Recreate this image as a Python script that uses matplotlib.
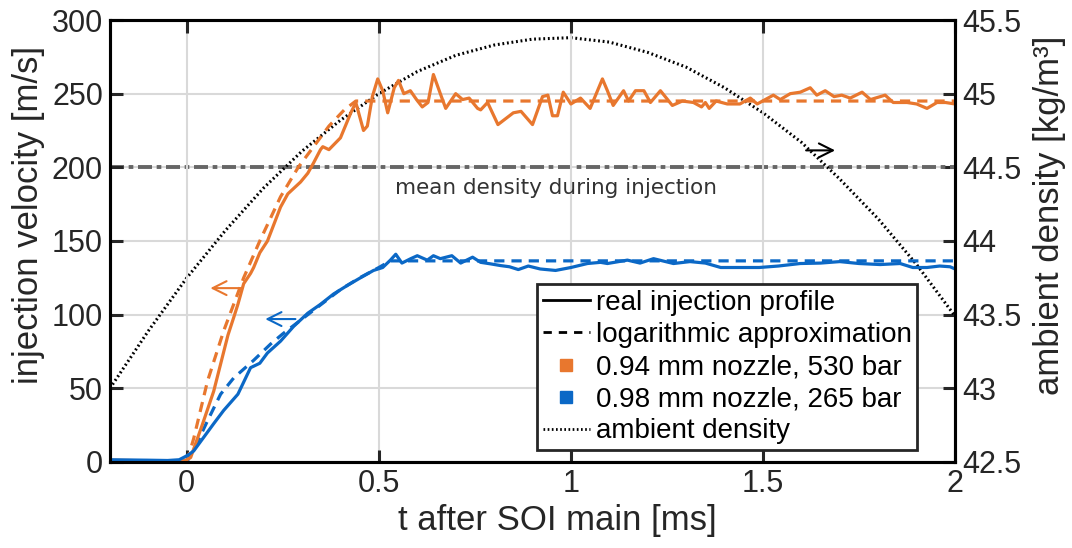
import numpy as np
import matplotlib.pyplot as plt
from matplotlib.lines import Line2D

plt.rcParams['font.family'] = ['Liberation Sans', 'DejaVu Sans']

# orange: 0.94 mm nozzle, 530 bar (real profile)
t_or = [-0.2, -0.15, -0.1, -0.05, -0.01, 0.0, 0.01, 0.04, 0.07, 0.107, 0.122, 0.133, 0.148, 0.166,
        0.174, 0.19, 0.21, 0.244, 0.263, 0.296, 0.315, 0.33, 0.348, 0.354, 0.37, 0.40, 0.427, 0.44,
        0.46, 0.47, 0.483, 0.497, 0.51, 0.523, 0.54, 0.551, 0.565, 0.582, 0.598, 0.613, 0.628, 0.642,
        0.66, 0.674, 0.70, 0.718, 0.735, 0.757, 0.765, 0.783, 0.81, 0.85, 0.87, 0.90, 0.926, 0.94,
        0.952, 0.965, 0.98, 1.0, 1.025, 1.05, 1.082, 1.095, 1.11, 1.137, 1.15, 1.168, 1.19, 1.207,
        1.233, 1.264, 1.29, 1.319, 1.34, 1.35, 1.36, 1.378, 1.407, 1.44, 1.467, 1.485, 1.527, 1.545,
        1.571, 1.597, 1.623, 1.64, 1.662, 1.685, 1.705, 1.727, 1.758, 1.78, 1.818, 1.839, 1.875, 1.9,
        1.927, 1.953, 1.975, 2.0]
v_or = [1.2, 1.0, 0.8, 0.6, 0.8, 1.5, 3, 25, 48, 86, 98, 107, 121, 128,
        132, 142, 150, 173, 182, 190, 196, 203, 212, 214, 212, 220, 237, 244,
        225, 228, 248, 260, 252, 237, 254, 259, 250, 252, 246, 241, 244, 263,
        250, 240, 250, 246, 247, 240, 239, 244, 229, 237, 238, 229, 248, 249,
        235, 235, 251, 243, 247, 240, 260, 252, 242, 252, 245, 252, 252, 244,
        252, 242, 245, 244, 241, 244, 240, 245, 243, 243, 247, 243, 249, 246,
        250, 251, 254, 249, 252, 248, 249, 247, 251, 246, 249, 244, 244, 243,
        240, 244, 244, 243]

# orange logarithmic approximation
t_or_log = [0.0, 0.018, 0.054, 0.096, 0.148, 0.19, 0.244, 0.29, 0.33, 0.37, 0.41, 0.44, 2.0]
v_or_log = [0, 16, 55, 89, 125, 150, 180, 200, 214, 228, 239, 245, 245]

# blue: 0.98 mm nozzle, 265 bar (real profile)
t_bl = [-0.2, -0.1, -0.05, -0.02, -0.005, 0.005, 0.018, 0.07, 0.096, 0.133, 0.166, 0.19, 0.21,
        0.244, 0.278, 0.315, 0.348, 0.382, 0.419, 0.452, 0.486, 0.51, 0.53, 0.544, 0.56, 0.583, 0.6,
        0.626, 0.642, 0.66, 0.69, 0.713, 0.744, 0.765, 0.79, 0.817, 0.84, 0.863, 0.889, 0.92, 0.96,
        1.0, 1.043, 1.077, 1.095, 1.147, 1.18, 1.215, 1.267, 1.31, 1.35, 1.39, 1.44, 1.49,
        1.54, 1.597, 1.65, 1.70, 1.75, 1.805, 1.857, 1.89, 1.927, 1.96, 1.987, 2.0]
v_bl = [1.5, 1.2, 1.0, 1.5, 3.5, 5, 7.5, 26, 35, 46, 64, 67, 74,
        82, 92, 101, 107, 114, 120, 125, 130, 132, 137, 141, 135, 138, 140,
        137, 140, 138, 140, 135, 139, 135.5, 134.5, 133.3, 132.5, 130.6, 133, 131, 130,
        132, 134.7, 135.5, 134.7, 137, 135, 138, 134.7, 136, 135, 132, 132, 132,
        133, 134.7, 135, 136, 134.7, 134, 134.7, 132, 132, 133, 132.5, 131]

# blue logarithmic approximation
t_bl_log = [0.0, 0.025, 0.054, 0.088, 0.122, 0.174, 0.218, 0.25, 0.3, 0.35, 0.4, 0.45, 0.5, 0.53, 2.0]
v_bl_log = [0, 12, 28, 46, 57, 69, 80, 87, 97, 107, 117, 125, 132, 136.5, 136.5]

# ambient density (right axis)
t_rho = [-0.2, -0.1, 0.0, 0.1, 0.2, 0.3, 0.4, 0.5, 0.6, 0.7, 0.8, 0.9, 1.0,
         1.1, 1.2, 1.3, 1.4, 1.5, 1.6, 1.7, 1.8, 1.9, 2.0]
rho = [43.00, 43.39, 43.75, 44.07, 44.36, 44.61, 44.82, 45.00, 45.15, 45.26, 45.33, 45.37, 45.38,
       45.35, 45.28, 45.18, 45.04, 44.87, 44.67, 44.42, 44.15, 43.84, 43.49]

mean_rho = 44.5

orange = '#E8772E'
blue = '#0B68C6'

fig = plt.figure(figsize=(10.72, 5.48), dpi=100)
ax = fig.add_axes([0.1026, 0.157, 0.7883, 0.8065])
ax2 = ax.twinx()

ax.set_xlim(-0.2, 2)
ax.set_ylim(0, 300)
ax2.set_ylim(42.5, 45.5)

# horizontal grid on the back axes (ticks of both y axes coincide), vertical on the front
ax2.grid(True, axis='y', color='#d9d9d9', lw=1.5)
ax2.set_axisbelow(True)
ax.grid(True, axis='x', color='#d9d9d9', lw=1.5)
ax.set_axisbelow(True)

ax2.plot([-0.2, 2], [mean_rho, mean_rho], color='#666666', lw=2.8, dashes=(3.6, 1.2, 1.2, 1.2))
ax2.plot(t_rho, rho, color='black', lw=2.2, ls=(0, (0.6, 0.9)))

ax.plot(t_or_log, v_or_log, color=orange, lw=2.3, dashes=(3.2, 2.2))
ax.plot(t_bl_log, v_bl_log, color=blue, lw=2.3, dashes=(3.2, 2.2))
ax.plot(t_or, v_or, color=orange, lw=2.3)
ax.plot(t_bl, v_bl, color=blue, lw=2.3)

# left axes in front so the velocity curves sit above the density curve
ax.set_zorder(ax2.get_zorder() + 1)
ax.patch.set_visible(False)

ax.annotate('', xy=(0.054, 118), xytext=(0.15, 118),
            arrowprops=dict(arrowstyle='->', color=orange, lw=1.5, mutation_scale=25))
ax.annotate('', xy=(0.197, 97), xytext=(0.29, 97),
            arrowprops=dict(arrowstyle='->', color=blue, lw=1.5, mutation_scale=25))
ax.annotate('', xy=(1.695, 211.5), xytext=(1.605, 211.5),
            arrowprops=dict(arrowstyle='->', color='black', lw=1.5, mutation_scale=25))

ax.text(0.96, 186, 'mean density during injection', family='DejaVu Sans', fontsize=15.5,
        color='#333333', ha='center', va='center')

ax.set_xticks([0, 0.5, 1, 1.5, 2])
ax.set_xticklabels(['0', '0.5', '1', '1.5', '2'])
ax.set_yticks([0, 50, 100, 150, 200, 250, 300])
ax2.set_yticks([42.5, 43, 43.5, 44, 44.5, 45, 45.5])
ax2.set_yticklabels(['42.5', '43', '43.5', '44', '44.5', '45', '45.5'])

for a in (ax, ax2):
    a.tick_params(direction='in', length=9, width=2.2, labelsize=22, colors='#262626', pad=5)
    for s in a.spines.values():
        s.set_linewidth(2.2)
        s.set_color('black')
ax.tick_params(axis='y', right=False)
ax.tick_params(axis='x', top=True)

ax.set_xlabel('t after SOI main [ms]', fontsize=25, color='#262626')
ax.set_ylabel('injection velocity [m/s]', fontsize=25, color='#262626')
ax2.set_ylabel('ambient density [kg/m³]', fontsize=25, color='#262626')
ax.xaxis.set_label_coords(0.529, -0.094)
ax.yaxis.set_label_coords(-0.077, 0.559)
ax2.yaxis.set_label_coords(1.092, 0.559)

handles = [
    Line2D([], [], color='black', lw=2),
    Line2D([], [], color='black', lw=2, dashes=(3, 2.5)),
    Line2D([], [], color=orange, ls='none', marker='s', markersize=9),
    Line2D([], [], color=blue, ls='none', marker='s', markersize=9),
    Line2D([], [], color='black', lw=2, ls=(0, (0.6, 0.9))),
]
labels = ['real injection profile', 'logarithmic approximation', '0.94 mm nozzle, 530 bar',
          '0.98 mm nozzle, 265 bar', 'ambient density']
leg = ax.legend(handles, labels, loc='lower right', bbox_to_anchor=(0.955, 0.027), borderaxespad=0,
                fontsize=20, handlelength=1.7, handletextpad=0.2, labelspacing=0.22,
                borderpad=0.2, frameon=True, fancybox=False, edgecolor='#262626')
leg.get_frame().set_linewidth(2)
leg.get_frame().set_alpha(1)

fig.savefig('out.png', dpi=100)
